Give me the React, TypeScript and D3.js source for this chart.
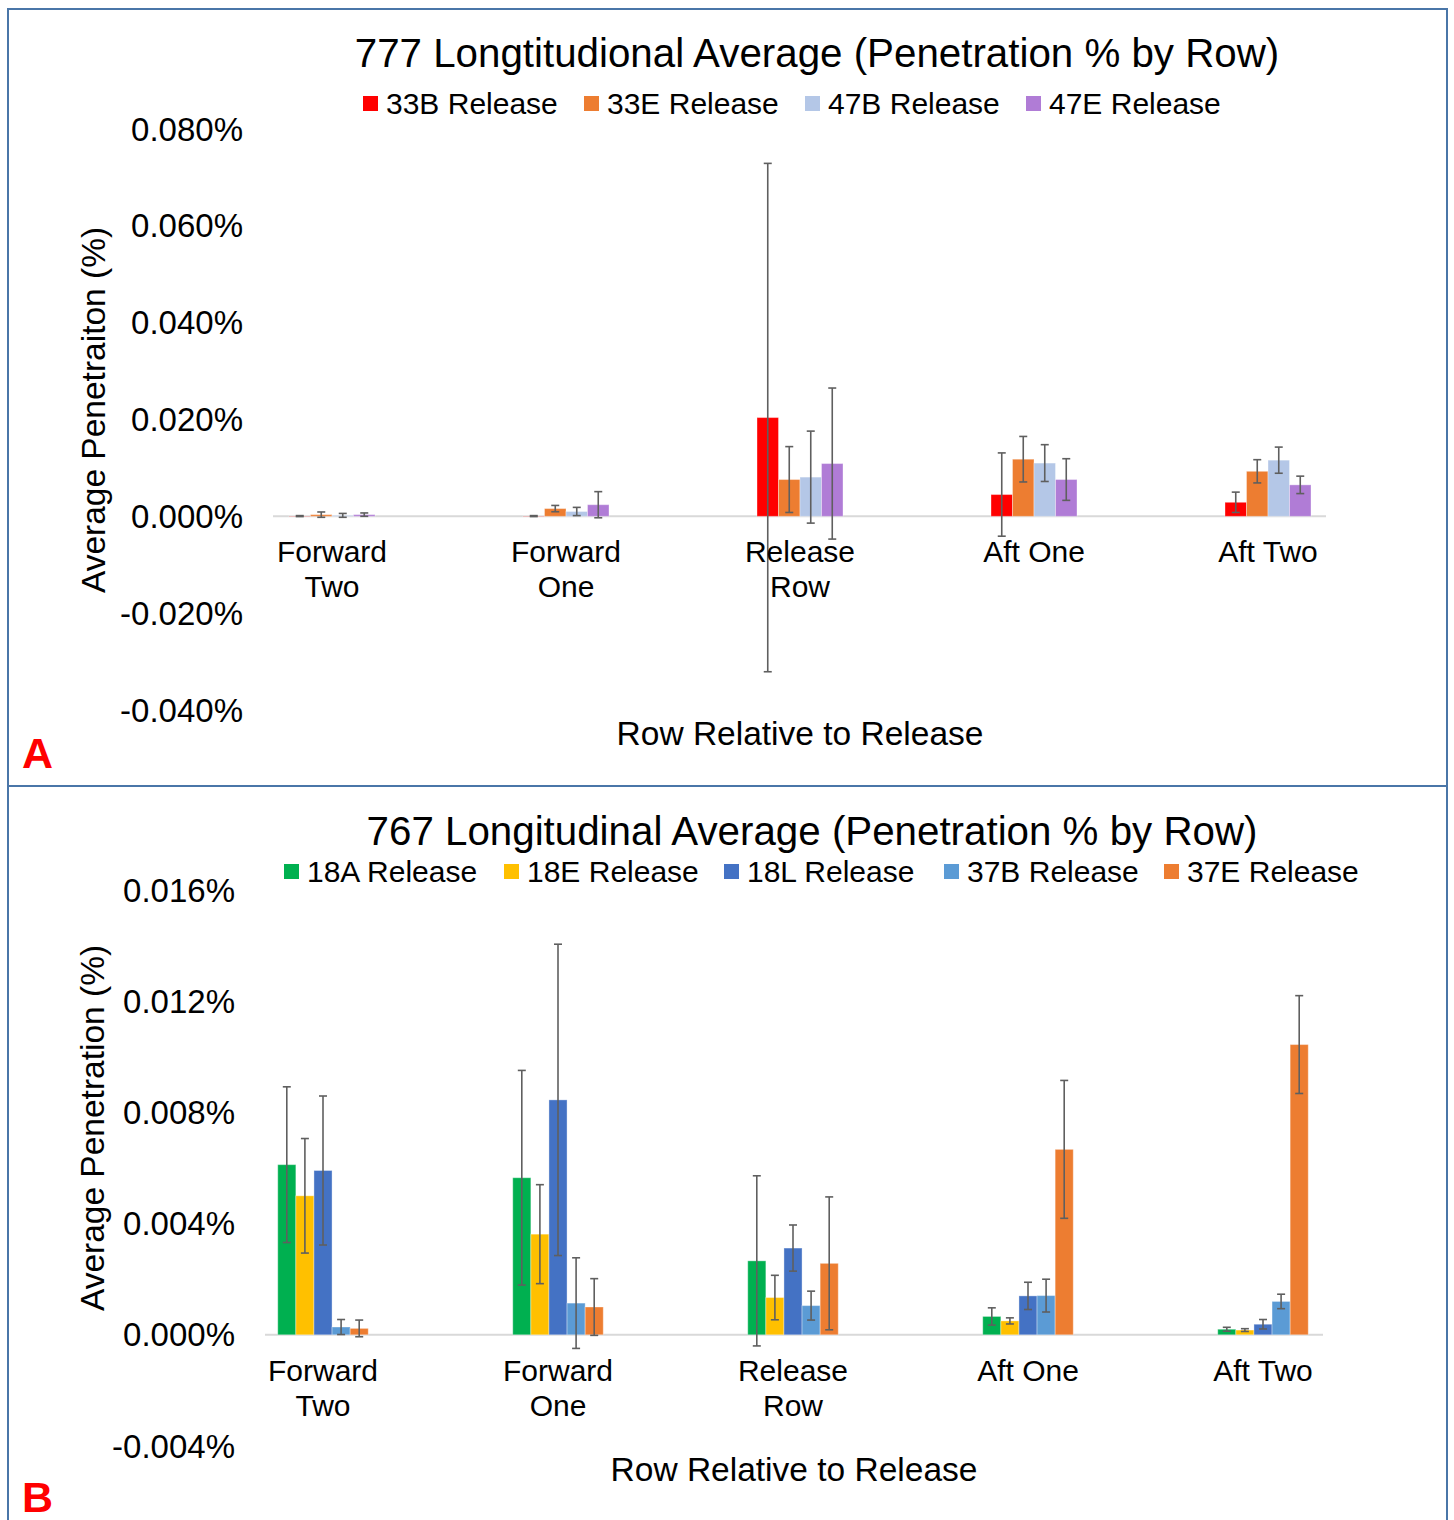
import React from "react";
import * as d3 from "d3";

const categories = ["Forward Two", "Forward One", "Release Row", "Aft One", "Aft Two"];
const categoryLines = [["Forward", "Two"], ["Forward", "One"], ["Release", "Row"], ["Aft One"], ["Aft Two"]];

// Panel A (values in 0.001 % units)
const seriesA = ["33B Release", "33E Release", "47B Release", "47E Release"];
const colorsA = ["#FF0000", "#ED7D31", "#B4C7E7", "#B07CD6"];
const valuesA = [
  [0.05, 0.05, 20.4, 4.5, 2.9],
  [0.35, 1.6, 7.6, 11.8, 9.3],
  [0.2, 1.0, 8.1, 11.0, 11.6],
  [0.35, 2.4, 10.9, 7.6, 6.5],
];
const errorsA = [
  [0.1, 0.1, 52.5, 8.6, 2.1],
  [0.55, 0.65, 6.8, 4.7, 2.4],
  [0.4, 0.85, 9.5, 3.8, 2.7],
  [0.35, 2.7, 15.6, 4.3, 1.8],
];
const ticksA = [80, 60, 40, 20, 0, -20, -40];

// Panel B
const seriesB = ["18A Release", "18E Release", "18L Release", "37B Release", "37E Release"];
const colorsB = ["#00B050", "#FFC000", "#4472C4", "#5B9BD5", "#ED7D31"];
const valuesB = [
  [6.12, 5.65, 2.66, 0.66, 0.2],
  [5.0, 3.62, 1.34, 0.5, 0.17],
  [5.91, 8.45, 3.12, 1.4, 0.38],
  [0.28, 1.14, 1.05, 1.41, 1.2],
  [0.23, 1.0, 2.57, 6.67, 10.44],
];
const errorsB = [
  [2.8, 3.86, 3.06, 0.31, 0.07],
  [2.06, 1.78, 0.8, 0.11, 0.05],
  [2.68, 5.6, 0.83, 0.49, 0.17],
  [0.27, 1.63, 0.52, 0.59, 0.26],
  [0.3, 1.02, 2.39, 2.48, 1.76],
];
const ticksB = [16, 12, 8, 4, 0, -4];

const FONT = "'Liberation Sans', Arial, sans-serif";

type PanelProps = {
  title: string;
  yTitle: string;
  letter: string;
  series: string[];
  colors: string[];
  values: number[][];
  errors: number[][];
  ticks: number[];
  yDomain: [number, number];
  yRange: [number, number];
  xRange: [number, number];
  axisX: [number, number];
  groupW: number;
  titleX: number;
  titleY: number;
  legendX: number;
  legendY: number;
  legendStep: number;
  tickX: number;
  yTitleX: number;
  yTitleY: number;
  catY: number;
  xTitleX: number;
  xTitleY: number;
  letterY: number;
};

const fmtTick = (t: number) => d3.format(".3f")(t / 1000).replace("\u2212", "-") + "%";

function Panel(p: PanelProps) {
  const y = d3.scaleLinear().domain(p.yDomain).range(p.yRange);
  const x = d3.scaleBand<string>().domain(categories).range(p.xRange).paddingInner(0).paddingOuter(0);
  const xs = d3.scaleBand<string>().domain(p.series).range([-p.groupW / 2, p.groupW / 2]);
  const y0 = y(0);
  return (
    <g>
      <text x={p.titleX} y={p.titleY} fontSize={40.3} textAnchor="middle" fill="#000" fontFamily={FONT}>
        {p.title}
      </text>
      {p.series.map((s, i) => (
        <g key={s} transform={`translate(${p.legendX + i * p.legendStep},${p.legendY})`}>
          <rect x={0} y={-8} width={15} height={15} fill={p.colors[i]} />
          <text x={23} y={10} fontSize={30} fill="#000" fontFamily={FONT}>
            {s}
          </text>
        </g>
      ))}
      {p.ticks.map((t) => (
        <text key={t} x={p.tickX} y={y(t)} dy="0.35em" fontSize={33} textAnchor="end" fill="#000" fontFamily={FONT}>
          {fmtTick(t)}
        </text>
      ))}
      <text
        transform={`translate(${p.yTitleX},${p.yTitleY}) rotate(-90)`}
        fontSize={33.5}
        textAnchor="middle"
        dy="0.35em"
        fill="#000"
        fontFamily={FONT}
      >
        {p.yTitle}
      </text>
      <line x1={p.axisX[0]} x2={p.axisX[1]} y1={y0} y2={y0} stroke="#D9D9D9" strokeWidth={2} />
      {p.series.map((s, si) =>
        categories.map((c, ci) => {
          const v = p.values[si][ci];
          const bx = (x(c) as number) + x.bandwidth() / 2 + (xs(s) as number);
          return (
            <rect
              key={s + c}
              x={bx}
              y={Math.min(y(v), y0)}
              width={xs.bandwidth()}
              height={Math.abs(y0 - y(v))}
              fill={p.colors[si]}
              stroke="#fff"
              strokeOpacity={0.35}
              strokeWidth={1}
            />
          );
        })
      )}
      {p.series.map((s, si) =>
        categories.map((c, ci) => {
          const v = p.values[si][ci];
          const e = p.errors[si][ci];
          const cx = (x(c) as number) + x.bandwidth() / 2 + (xs(s) as number) + xs.bandwidth() / 2;
          const yt = y(v + e);
          const yb = y(v - e);
          return (
            <g key={"e" + s + c} stroke="#5F5F5F" strokeWidth={1.6}>
              <line x1={cx} x2={cx} y1={yt} y2={yb} />
              <line x1={cx - 4} x2={cx + 4} y1={yt} y2={yt} />
              <line x1={cx - 4} x2={cx + 4} y1={yb} y2={yb} />
            </g>
          );
        })
      )}
      {categories.map((c, ci) => {
        const cx = (x(c) as number) + x.bandwidth() / 2;
        const parts = categoryLines[ci];
        return (
          <text key={c} x={cx} y={p.catY} fontSize={30} textAnchor="middle" fill="#000" fontFamily={FONT}>
            {parts.map((w, i) => (
              <tspan key={i} x={cx} dy={i === 0 ? 0 : 35}>
                {w}
              </tspan>
            ))}
          </text>
        );
      })}
      <text x={p.xTitleX} y={p.xTitleY} fontSize={33.5} textAnchor="middle" dy="0.35em" fill="#000" fontFamily={FONT}>
        Row Relative to Release
      </text>
      <text x={22} y={p.letterY} fontSize={43} fontWeight="bold" fill="#FF0000" fontFamily={FONT}>
        {p.letter}
      </text>
    </g>
  );
}

export default function App() {
  return (
    <svg
      width={1454}
      height={1520}
      style={{ position: "absolute", left: 0, top: 0, background: "#fff" }}
      xmlns="http://www.w3.org/2000/svg"
    >
      <rect x={0} y={0} width={1454} height={1520} fill="#fff" />
      <Panel
        title="777 Longtitudional Average (Penetration % by Row)"
        yTitle="Average Penetraiton (%)"
        letter="A"
        series={seriesA}
        colors={colorsA}
        values={valuesA}
        errors={errorsA}
        ticks={ticksA}
        yDomain={[-40, 80]}
        yRange={[710, 129]}
        xRange={[215, 1385]}
        axisX={[273, 1326]}
        groupW={86}
        titleX={817}
        titleY={67}
        legendX={363}
        legendY={104}
        legendStep={221}
        tickX={243}
        yTitleX={93}
        yTitleY={410}
        catY={562}
        xTitleX={800}
        xTitleY={733}
        letterY={768}
      />
      <Panel
        title="767 Longitudinal Average (Penetration % by Row)"
        yTitle="Average Penetration (%)"
        letter="B"
        series={seriesB}
        colors={colorsB}
        values={valuesB}
        errors={errorsB}
        ticks={ticksB}
        yDomain={[-4, 16]}
        yRange={[1446, 890]}
        xRange={[205.5, 1380.5]}
        axisX={[265, 1323]}
        groupW={90.5}
        titleX={812}
        titleY={845}
        legendX={284}
        legendY={872}
        legendStep={220}
        tickX={235}
        yTitleX={92}
        yTitleY={1128}
        catY={1381}
        xTitleX={794}
        xTitleY={1469}
        letterY={1512}
      />
      <rect x={8} y={9} width={1439} height={777} fill="none" stroke="#4A76A8" strokeWidth={2} />
      <line x1={8} x2={8} y1={786} y2={1520} stroke="#4A76A8" strokeWidth={2} />
      <line x1={1447} x2={1447} y1={786} y2={1520} stroke="#4A76A8" strokeWidth={2} />
    </svg>
  );
}
